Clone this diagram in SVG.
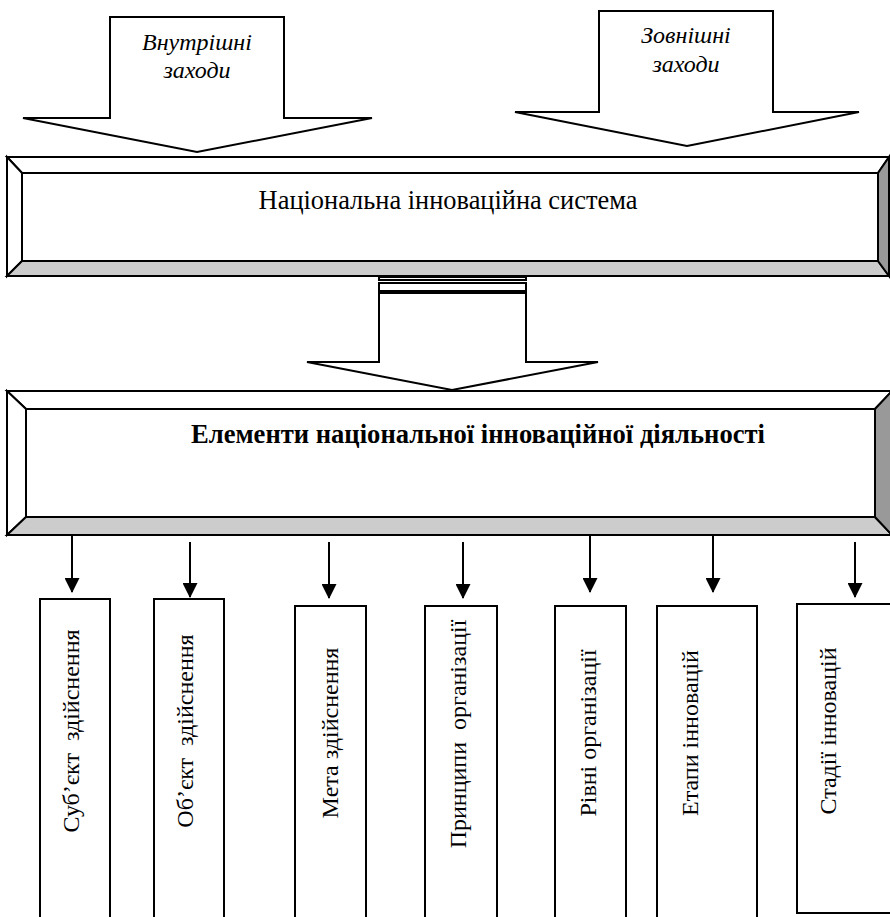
<svg xmlns="http://www.w3.org/2000/svg" width="890" height="917" viewBox="0 0 890 917">
<style>
.s{stroke:#000;stroke-width:2;stroke-linejoin:miter}
.w{fill:#fff}
.g1{fill:#cccccc}
.g2{fill:#999999}
text{font-family:'Liberation Serif','Times New Roman',serif;font-size:24px;fill:#000}
.i{font-style:italic}
.b{font-weight:bold;font-size:26.6px}
.h{font-size:26.4px}
.ln{stroke:#000;stroke-width:2;fill:none}
</style>
<defs>
<marker id="ah" markerWidth="15" markerHeight="15" refX="14" refY="7.5" orient="auto" markerUnits="userSpaceOnUse" viewBox="0 0 15 15">
<path d="M0,0 L15,7.5 L0,15 z" fill="#000"/>
</marker>
</defs>
<rect width="890" height="917" fill="#fff"/>

<g id="internal">
<polygon class="s w" points="110,17 284,17 284,118 372,118 197,152 23,118 110,118"/>
<text class="i" x="197" y="50" text-anchor="middle">Внутрішні</text>
<text class="i" x="197" y="78" text-anchor="middle">заходи</text>
</g>

<g id="external">
<polygon class="s w" points="599,11 773,11 773,112 859,112 687,146 515,112 599,112"/>
<text class="i" x="686" y="43" text-anchor="middle">Зовнішні</text>
<text class="i" x="686" y="72" text-anchor="middle">заходи</text>
</g>

<g id="nis">
<polygon class="s w" points="7,157 889,157 878,173 22,173"/>
<polygon class="s w" points="7,157 22,173 22,261 7,276"/>
<polygon class="s g1" points="7,276 22,261 878,261 889,276"/>
<polygon class="s g2" points="889,157 889,276 878,261 878,173"/>
<rect class="s w" x="22" y="173" width="856" height="88"/>
<text class="h" x="448" y="209" text-anchor="middle">Національна інноваційна система</text>
</g>

<g id="connectors">
<rect class="s w" x="379" y="277" width="147" height="3"/>
<rect class="s w" x="379" y="283" width="147" height="8"/>
<polygon class="s w" points="379,293 526,293 526,362 598,362 452,390 307,362 379,362"/>
<line class="ln" x1="72" y1="535" x2="72" y2="592" marker-end="url(#ah)"/>
<line class="ln" x1="190" y1="542" x2="190" y2="597" marker-end="url(#ah)"/>
<line class="ln" x1="329" y1="542" x2="329" y2="598" marker-end="url(#ah)"/>
<line class="ln" x1="463" y1="542" x2="463" y2="598" marker-end="url(#ah)"/>
<line class="ln" x1="590" y1="535" x2="590" y2="592" marker-end="url(#ah)"/>
<line class="ln" x1="713" y1="535" x2="713" y2="592" marker-end="url(#ah)"/>
<line class="ln" x1="855" y1="542" x2="855" y2="597" marker-end="url(#ah)"/>
</g>

<g id="elements">
<polygon class="s w" points="7,391 892,391 875,409 26,409"/>
<polygon class="s w" points="7,391 26,409 26,517 7,535"/>
<polygon class="s g1" points="7,535 26,517 875,517 892,535"/>
<polygon class="s g2" points="892,391 892,535 875,517 875,409"/>
<rect class="s w" x="26" y="409" width="849" height="108"/>
<text class="b" x="478" y="443" text-anchor="middle">Елементи національної інноваційної діяльності</text>
</g>

<g id="subject">
<rect class="s w" x="40" y="599" width="70" height="330"/>
<text transform="translate(79,731) rotate(-90)" text-anchor="middle" xml:space="preserve">Суб’єкт  здійснення</text>
</g>
<g id="object">
<rect class="s w" x="154" y="599" width="70" height="330"/>
<text transform="translate(193,731) rotate(-90)" text-anchor="middle" xml:space="preserve">Об’єкт  здійснення</text>
</g>
<g id="goal">
<rect class="s w" x="295" y="606" width="71" height="330"/>
<text transform="translate(338,733) rotate(-90)" text-anchor="middle">Мета здійснення</text>
</g>
<g id="principles">
<rect class="s w" x="425" y="606" width="72" height="330"/>
<text transform="translate(466,734) rotate(-90)" text-anchor="middle" xml:space="preserve">Принципи  організації</text>
</g>
<g id="levels">
<rect class="s w" x="555" y="606" width="71" height="330"/>
<text transform="translate(596,733) rotate(-90)" text-anchor="middle">Рівні організації</text>
</g>
<g id="stages">
<rect class="s w" x="657" y="606" width="100" height="330"/>
<text transform="translate(698,733) rotate(-90)" text-anchor="middle">Етапи інновацій</text>
</g>
<g id="phases">
<rect class="s w" x="797" y="604" width="100" height="309"/>
<text transform="translate(836,731) rotate(-90)" text-anchor="middle">Стадії інновацій</text>
</g>
</svg>
